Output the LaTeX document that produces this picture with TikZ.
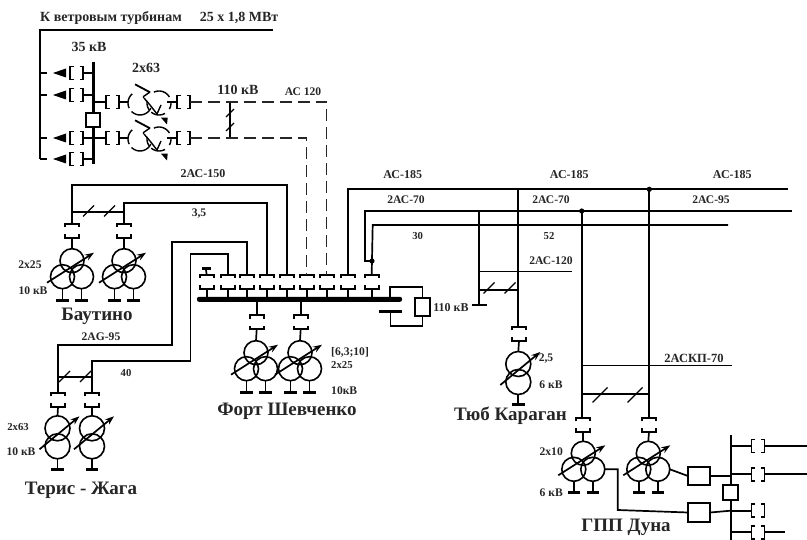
\documentclass[tikz,border=0pt]{standalone}
\usepackage{fontspec}
\setmainfont{Liberation Serif}
\usetikzlibrary{arrows.meta}
\tikzset{
  x=1pt,y=-1pt,
  wire/.style={line width=1.7pt,line join=miter},
  thinwire/.style={line width=1.2pt},
  dashwire/.style={line width=1.5pt,dash pattern=on 12pt off 6pt,draw=black!85},
  brkv/.style={rectangle,minimum width=14pt,minimum height=14pt,inner sep=0pt,outer sep=0pt},
  brkh/.style={rectangle,minimum width=13pt,minimum height=13pt,inner sep=0pt,outer sep=0pt},
  wind/.style={circle,draw,line width=1.6pt,minimum size=24pt,inner sep=0pt,outer sep=0pt},
  gbar/.style={rectangle,fill=black,minimum width=12.5pt,minimum height=3pt,inner sep=0pt,outer sep=0pt},
  sect/.style={rectangle,draw,line width=1.7pt,fill=white,inner sep=0pt,outer sep=0pt},
  tap/.style={line width=1.7pt,-{Stealth[length=9pt,width=6.5pt]}},
  lab/.style={font=\bfseries\fontsize{11.6}{13}\selectfont,inner sep=0pt,text=black!85},
  sm/.style={font=\bfseries\fontsize{10.7}{13}\selectfont,inner sep=0pt,text=black!85},
  big/.style={font=\bfseries\fontsize{19}{21}\selectfont,inner sep=0pt,text=black!85},
  mid/.style={font=\bfseries\fontsize{14}{16}\selectfont,inner sep=0pt,text=black!85},
  tr/.style={line width=1.4pt},
}
\newcommand{\vbrk}[3]{\node[brkv] (#1) at (#2,#3) {};
  \draw[wire] (#1.west) ++(0,-3.5) |- (#1.north east) -- ++(0,3.5);
  \draw[wire] (#1.west) ++(0,3.5) |- (#1.south east) -- ++(0,-3.5);}
\newcommand{\hbrk}[3]{\node[brkh] (#1) at (#2,#3) {};
  \draw[wire] (#1.north) ++(-3,0) -- (#1.north west) -- (#1.south west) -- ++(3.5,0);
  \draw[wire] (#1.north) ++(3,0) -- (#1.north east) -- (#1.south east) -- ++(-3.5,0);}
\newcommand{\slashm}[3]{\draw[line width=1.4pt] (#1-#3,#2+#3) -- (#1+#3,#2-#3);}
\newcommand{\threewind}[3]{%
  \node[wind] (#1t) at (#2,#3) {};
  \node[wind] (#1l) at ([shift={(-9.5,16)}]#2,#3) {};
  \node[wind] (#1r) at ([shift={(9.5,16)}]#2,#3) {};
  \node[gbar] (#1gl) at ([shift={(-9.5,39.5)}]#2,#3) {};
  \node[gbar] (#1gr) at ([shift={(9.5,39.5)}]#2,#3) {};
  \draw[wire] (#1l.south) -- (#1gl.north);
  \draw[wire] (#1r.south) -- (#1gr.north);
  \draw[tap] ([shift={(-25,22)}]#2,#3) -- ([shift={(22,-8)}]#2,#3);}
\newcommand{\twowind}[3]{%
  \node[wind,minimum size=25pt] (#1t) at (#2,#3) {};
  \node[wind,minimum size=25pt] (#1l) at ([shift={(0,18)}]#2,#3) {};
  \node[gbar] (#1gl) at ([shift={(0,41)}]#2,#3) {};
  \draw[wire] (#1l.south) -- (#1gl.north);
  \draw[tap] ([shift={(-18,21)}]#2,#3) -- ([shift={(22,-12)}]#2,#3);}
% circular arc of a winding, angles counted counter-clockwise on the page
\newcommand{\warc}[4]{\draw[tr,smooth] plot[domain=#3:#4,samples=10] ({#1+12*cos(\x)},{#2-12*sin(\x)});}
\newcommand{\autotr}[3]{%
  \begin{scope}[shift={(#2,#3)}]
    \coordinate (#1in) at (-22,0);
    \coordinate (#1out) at (17,0);
    \warc{-10}{1}{130}{205}
    \warc{-10}{1}{225}{335}
    \warc{9}{1}{170}{215}
    \warc{9}{1}{30}{115}
    \warc{9}{1}{-30}{5}
    \warc{9}{1}{230}{300}
    \draw[line width=1.8pt] (-15,-17.7) -- (0,-9.7);
    \draw[tr] (0,-10) -- (-6.5,-5.5) -- (-6.5,-4);
    \draw[tr] (-6,-4) -- (0,3) -- (7,12) -- (11,3);
    \fill (11,15.7) -- (17.7,15.7) -- (17,22.5) -- cycle;
  \end{scope}}
\begin{document}
\begin{tikzpicture}
\useasboundingbox (0,0) rectangle (807,540);
\fill[white] (0,0) rectangle (807,540);

% ---- wind farm 35 kV
\coordinate (wfA) at (273,30);
\coordinate (wfB) at (40,159);
\draw[wire,line width=1.9pt] (wfA) -| (wfB);
\node[mid] (tTurb) at (111,18) {К ветровым турбинам};
\node[mid] (tPow) at (239,18) {25 х 1,8 МВт};
\node[mid] (t35) at (89,47) {35 кВ};
\node[mid] (t263a) at (146,68) {2х63};
\node[mid] (t110a) at (238,90) {110 кВ};
\node[lab] (tA120) at (303,92) {АС 120};

\draw[line width=3pt] (93,62) -- (93,113);
\draw[line width=3pt] (93,127) -- (93,164);
\node[sect,minimum width=14.5pt,minimum height=14.5pt] (secA) at (93,120) {};
\foreach \n/\yy in {a/73,b/95,c/138,d/159}{
  \hbrk{wb\n}{76.5}{\yy}
  \draw[wire] (wb\n.east) -- (93,\yy);
  \draw[wire] (40,\yy) -- (47,\yy);
  \fill (53,\yy) -- (66,\yy-4.5) -- (66,\yy+4.5) -- cycle;
}
\hbrk{ta}{112.5}{102}
\hbrk{tb}{112.5}{138}
\draw[wire] (93,102) -- (ta.west);
\draw[wire] (93,138) -- (tb.west);
\autotr{ATa}{150}{102}
\autotr{ATb}{150}{138}
\draw[wire] (ta.east) -- (ATain);
\draw[wire] (tb.east) -- (ATbin);
\hbrk{tc}{183.5}{102}
\hbrk{td}{183.5}{138}
\draw[wire] (ATaout) -- (tc.west);
\draw[wire] (ATbout) -- (td.west);
\coordinate (tieA) at (230,102);
\coordinate (tieB) at (230,138);
\draw[wire,line width=1.4pt] (tieA) -- (tieB);
\slashm{230}{113}{4}
\slashm{230}{127}{4}

% ---- main bus
\node[rectangle,fill=black,rounded corners=2pt,minimum width=205pt,minimum height=5pt,inner sep=0pt,outer sep=0pt] (bus) at (299.5,299.3) {};
\foreach \n/\xx in {a/206.7,b/228.3,c/246.7,d/266.7,e/286.7,f/306.7,g/326.7,h/348.3,i/371.7}{
  \vbrk{bk\n}{\xx}{281.7}
  \draw[wire] (bk\n.south) -- (bus.north -| bk\n.south);
}
\draw[dashwire] (tc.east) -| (bkg.north);
\draw[dashwire] (td.east) -| (bkf.north);

\node[gbar,minimum width=9pt] (bkaT) at (206,268.3) {};
\draw[wire] (bkaT.south) -- (bka.north);

% Bautino
\vbrk{bta}{72}{231}
\vbrk{btb}{124}{231}
\draw[wire] (bkd.north) |- (124,203.3) -- (btb.north);
\draw[wire] (bke.north) |- (72,185) -- (bta.north);
\draw[wire] (72,211.7) -- (124,211.7);
\slashm{88.5}{211}{5.5}
\slashm{109.5}{211}{5.5}
\threewind{Ba}{72}{260.7}
\threewind{Bb}{124}{260.7}
\draw[wire] (bta.south) -- (Bat.north);
\draw[wire] (btb.south) -- (Bbt.north);
\node[lab] (t225a) at (30,265) {2х25};
\node[lab] (t10a) at (33,291) {10 кВ};
\node[big] (tBaut) at (97,316) {Баутино};
\node[lab,font=\bfseries\fontsize{12}{13}\selectfont] (t2a150) at (203,174) {2АС-150};
\node[lab] (t35l) at (199,214) {3,5};
\node[lab] (t2ag) at (101,337) {2АG-95};
\node[sm] (t40) at (126,373) {40};

% Teris-Zhaga
\vbrk{tza}{58}{400}
\vbrk{tzb}{92}{400}
\draw[wire] (bkc.north) |- (171.7,241.7) |- (58,345) -- (tza.north);
\draw[wire] (bkb.north) |- (190.5,254) |- (92,360.7) -- (tzb.north);
\draw[wire] (58,376.7) -- (92,376.7);
\slashm{64.5}{376.5}{5.5}
\slashm{85.5}{376.5}{5.5}
\twowind{Ta}{57.5}{428.3}
\twowind{Tb}{92}{428.3}
\draw[wire] (tza.south) -- (Tat.north);
\draw[wire] (tzb.south) -- (Tbt.north);
\node[sm] (t263b) at (18,427) {2х63};
\node[lab] (t10b) at (21,452) {10 кВ};
\node[big] (tTer) at (81,490) {Терис - Жага};

% Fort Shevchenko
\vbrk{fa}{256.7}{322.3}
\vbrk{fb}{300.7}{322.3}
\draw[wire] (bus.south -| fa.north) -- (fa.north);
\draw[wire] (bus.south -| fb.north) -- (fb.north);
\threewind{Fa}{256}{352.7}
\threewind{Fb}{300}{352.7}
\draw[wire] (fa.south) -- (Fat.north);
\draw[wire] (fb.south) -- (Fbt.north);
\node[lab,anchor=west] (t63) at (331,352) {[6,3;10]};
\node[sm,anchor=west] (t225b) at (331,365) {2х25};
\node[lab,anchor=west] (t10c) at (331,391) {10кВ};
\node[big] (tFort) at (287,411) {Форт Шевченко};

% reactor / capacitor
\node[sect,minimum width=15pt,minimum height=18.5pt] (react) at (422.5,307) {};
\node[gbar,minimum width=23pt] (capa) at (390.5,311.7) {};
\draw[wire] (bus.north -| 390,0) ++(0,2) |- (422.5,286.7) -- (react.north);
\draw[wire] (capa.south) |- (422.5,326) -- (react.south);
\node[lab,font=\bfseries\fontsize{12}{13}\selectfont] (t110b) at (451,308) {110 кВ};

% right-hand lines
\coordinate (lineA) at (788,189.3);
\coordinate (lineB) at (791.7,211);
\coordinate (lineC) at (728,225);
\draw[wire] (bkh.north) |- (lineA);
\draw[wire] (bki.north) -- (372.7,225) -- (lineC);
\draw[wire] (lineB) -- (365,211) |- (bki.north |- 0,261);
\fill (372,261) circle (2.6pt);
\fill (581.7,211) circle (2.6pt);
\fill (649.3,189.3) circle (2.6pt);
\node[lab,font=\bfseries\fontsize{12}{13}\selectfont] (tac1) at (402.7,174.7) {АС-185};
\node[lab,font=\bfseries\fontsize{12}{13}\selectfont] (tac2) at (569.3,174.7) {АС-185};
\node[lab,font=\bfseries\fontsize{12}{13}\selectfont] (tac3) at (732.3,174.7) {АС-185};
\node[lab] (t2a1) at (406,200) {2АС-70};
\node[lab] (t2a2) at (551,200) {2АС-70};
\node[lab] (t2a3) at (711,200) {2АС-95};
\node[sm] (t30) at (417.7,236) {30};
\node[sm] (t52) at (549,236) {52};
\node[lab] (t2a4) at (551,261) {2АС-120};

% Tyub Karagan
\node[gbar,minimum width=15pt,minimum height=2pt] (tkg) at (479.5,305) {};
\draw[wire] (479,211) -- (tkg.north -| 479,0);
\vbrk{tk}{519}{334}
\draw[wire] (518.3,189.3) -- (518.3,327);
\draw[thinwire] (479,271.7) -- (571.7,271.7);
\draw[wire] (479,290) -- (518.3,290);
\slashm{489}{288}{5.5}
\slashm{510}{288}{5.5}
\twowind{Ka}{518.3}{364}
\draw[wire] (tk.south) -- (Kat.north);
\node[lab] (t25) at (546,359) {2,5};
\node[lab] (t6a) at (551,385) {6 кВ};
\node[big] (tTyub) at (510.5,416) {Тюб Караган};

% Duna
\vbrk{da}{583.3}{425}
\vbrk{db}{649}{425}
\draw[wire] (581.7,211) -- (581.7,418);
\draw[wire] (649.3,189.3) -- (649.3,418);
\draw[thinwire] (581.7,365.7) -- (732,365.7);
\draw[wire] (581.7,394.3) -- (649.3,394.3);
\slashm{600}{395}{7.5}
\slashm{635}{395}{7.5}
\node[lab,font=\bfseries\fontsize{12.5}{14}\selectfont] (tksp) at (694,358) {2АСКП-70};
\threewind{Da}{583.3}{453.3}
\threewind{Db}{648.3}{453.3}
\draw[wire] (da.south) -- (Dat.north);
\draw[wire] (db.south) -- (Dbt.north);
\node[lab,anchor=east] (t210) at (563,452) {2х10};
\node[lab,anchor=east] (t6b) at (563,493) {6 кВ};
\node[big] (tGPP) at (626,527) {ГПП Дуна};

\node[sect,minimum width=22pt,minimum height=18.5pt] (boxa) at (699,476) {};
\node[sect,minimum width=22pt,minimum height=18.5pt] (boxb) at (699,512.5) {};
\draw[wire] (Dbr.east) -- (boxa.west);
\draw[wire] (Dar.east) -| (617.7,510) -- (boxb.west);
\draw[wire] (730.7,435) -- (730.7,485);
\draw[wire] (730.7,500) -- (730.7,540);
\node[sect,minimum width=15pt,minimum height=15pt] (secB) at (730.7,492.5) {};
\draw[wire] (boxa.east) -- (730.7,476);
\draw[wire] (boxb.east) -- (730.7,510.7);
\foreach \n/\yy in {a/446,b/474.3,c/510.7,d/532.3}{
  \hbrk{gb\n}{758}{\yy}
  \draw[wire] (730.7,\yy) -- (gb\n.west);
}
\coordinate (outa) at (807,446);
\coordinate (outb) at (807,474.3);
\coordinate (outd) at (785,532.3);
\draw[wire] (gba.east) -- (outa);
\draw[wire] (gbb.east) -- (outb);
\draw[wire] (gbd.east) -- (outd);
\end{tikzpicture}
\end{document}
